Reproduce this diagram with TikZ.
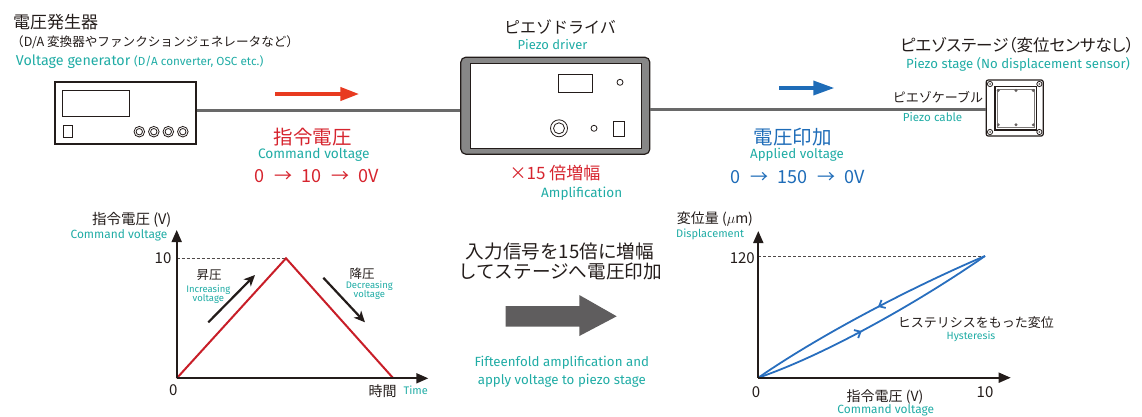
\documentclass[tikz,border=0pt]{standalone}
\usepackage{fontspec}
\usetikzlibrary{arrows.meta,decorations.markings}
\setmainfont{Noto Sans CJK JP}
\newfontfamily\jp{Noto Sans CJK JP}
\newfontfamily\jpprop[RawFeature=+palt]{Noto Sans CJK JP}
\newfontfamily\en{Fira Sans}
\newcommand\fsz[1]{\fontsize{#1}{#1}\selectfont}
\newcommand\gap{\hspace{9.5pt}}

\definecolor{ink}{RGB}{35,28,26}
\definecolor{tealtxt}{RGB}{32,172,165}
\definecolor{redtxt}{RGB}{214,36,46}
\definecolor{redarrow}{RGB}{232,58,32}
\definecolor{bluetxt}{RGB}{30,108,184}
\definecolor{bluecurve}{RGB}{40,110,190}
\definecolor{cablegray}{RGB}{105,105,105}
\definecolor{framegray}{RGB}{135,135,135}
\definecolor{bigarrow}{RGB}{95,93,94}
\definecolor{plotred}{RGB}{200,30,40}

\tikzset{
  jt/.style={inner sep=0pt, text=ink, font=\jp},
  tl/.style={inner sep=0pt, text=tealtxt, font=\en},
  device/.style={draw=ink, line width=1.2pt, fill=white, inner sep=0pt},
  part/.style={draw=ink, line width=0.9pt},
  cable/.style={draw=cablegray, line width=3pt},
  axis/.style={draw=ink, line width=1.8pt, -{Triangle[length=12pt,width=10pt]}},
  guide/.style={draw=ink!80, line width=0.8pt, dash pattern=on 3pt off 2pt},
  trend/.style={draw=ink, line width=2.2pt, -{Stealth[length=11pt,width=10pt,inset=3pt]}},
  loop/.style={draw=bluecurve, line width=1.8pt},
}

\begin{document}
\begin{tikzpicture}[x=1pt,y=-1pt]
\useasboundingbox (0,0) rectangle (1142,416);

% ---------- function generator ----------
\node[jt, anchor=west] (genjp) at (13,22) {\fsz{17}電圧発生器};
\node[jt, anchor=west] (genjp2) at (11,42.7) {\fsz{12.6}（D/A 変換器やファンクションジェネレータなど）};
\node[tl, anchor=west] (genen) at (15.7,62) {\fsz{14.3}Voltage generator \fsz{11.7}(D/A converter, OSC etc.)};
\node[device, minimum width=141pt, minimum height=62pt] (gen) at (125.5,113) {};
\draw[part] (62.7,90) rectangle (129.3,116.7);
\draw[part] (63.3,125) rectangle (72.7,137.3);
\foreach \cx in {139.3,153.8,168.3,182.8}{
  \draw[part, line width=0.8pt] (\cx,131.7) circle (5.3pt);
  \draw[part, line width=0.8pt] (\cx,131.7) circle (3.2pt);
}

% ---------- piezo driver ----------
\node[jt] (drvjp) at (560,26.7) {\fsz{16}ピエゾドライバ};
\node[tl] (drven) at (552.5,44.3) {\fsz{13}Piezo driver};
\node[draw=ink, fill=framegray, line width=1.2pt, rounded corners=5pt,
      minimum width=189pt, minimum height=97pt, inner sep=0pt] (drv) at (555.3,105.7) {};
\draw[part, line width=1.2pt, fill=white] (470.7,63.3) rectangle (641.7,148.3);
\draw[part] (558.3,74) rectangle (592.7,92.3);
\draw[part, line width=0.8pt] (620,82.3) circle (3pt);
\draw[part, line width=0.8pt] (559,128.3) circle (8.5pt);
\draw[part, line width=0.8pt] (559,128.3) circle (5.5pt);
\draw[part, line width=0.8pt] (594,128.3) circle (3pt);
\draw[part] (613.3,121) rectangle (624.3,136);
\node[inner sep=0pt, text=redtxt, font=\jp] (gain) at (555,173) {\fsz{17}×15 倍増幅};
\node[tl] (gainen) at (581.7,193.3) {\fsz{13.5}Amplification};

% ---------- piezo stage ----------
\node[inner sep=0pt, text=ink, font=\jpprop, anchor=west] (stgjp) at (900,45) {\fsz{16.5}ピエゾステージ（変位センサなし）};
\node[tl, anchor=west] (stgen) at (906,64) {\fsz{13.2}Piezo stage (No displacement sensor)};
\node[device, rounded corners=2pt, minimum width=57pt, minimum height=56pt] (stg) at (1014.7,108) {};
\draw[part, line width=1.3pt] (995,86.7) rectangle (1036.7,130);
\draw[draw=ink!60, line width=0.6pt] (997.6,89.2) rectangle (1034.1,127.5);
\foreach \sx in {990,1039.4}{
  \foreach \sy in {84,132}{
    \draw[part, line width=0.8pt] (\sx,\sy) circle (2.6pt);
    \fill[ink!70] (\sx,\sy) circle (1pt);
  }
}
\foreach \dx in {998.3,1016,1033.3}{
  \fill[ink!70] (\dx,90.5) circle (1.6pt);
  \fill[ink!70] (\dx,124.8) circle (1.6pt);
}
\node[jt, anchor=west] (cablejp) at (892.7,97.3) {\fsz{13}ピエゾケーブル};
\node[tl, anchor=west] (cableen) at (902.7,117.3) {\fsz{11.6}Piezo cable};

% ---------- cables ----------
\coordinate (lineA) at (0,110);
\coordinate (lineB) at (0,109);
\draw[cable] (gen.east |- lineA) -- (drv.west |- lineA);
\draw[cable] (drv.east |- lineB) -- (stg.west |- lineB);

% ---------- signal arrows and labels ----------
\coordinate (ra0) at (275,94);
\coordinate (ra1) at (359.3,94);
\draw[draw=redarrow, line width=4pt, -{Triangle[length=19pt,width=13pt]}] (ra0) -- (ra1);
\node[inner sep=0pt, text=redtxt, font=\jp] (cmdjp) at (312.5,136.7) {\fsz{19.5}指令電圧};
\node[tl] (cmden) at (313.8,155) {\fsz{13.7}Command voltage};
\node[inner sep=0pt, text=redtxt, font=\jp] (cmdval) at (317,176) {\fsz{18}0\gap→\gap10\gap→\gap0V};

\coordinate (ba0) at (779,88);
\coordinate (ba1) at (834.3,88);
\draw[draw=bluetxt, line width=3.5pt, -{Triangle[length=21pt,width=14pt]}] (ba0) -- (ba1);
\node[inner sep=0pt, text=bluetxt, font=\jp] (appjp) at (792.5,136.7) {\fsz{19.5}電圧印加};
\node[tl] (appen) at (797,155) {\fsz{13.3}Applied voltage};
\node[inner sep=0pt, text=bluetxt, font=\jp] (appval) at (798,176.7) {\fsz{18}0\gap→\gap150\gap→\gap0V};

% ---------- command voltage over time ----------
\coordinate (L0) at (176.7,378.3);
\coordinate (Ly) at (176.7,230);
\coordinate (Lx) at (428.3,378.3);
\coordinate (Lpk) at (286,258.3);
\coordinate (Lend) at (393.3,378.3);
\coordinate (L10) at (176.7,258.3);
\draw[guide] (L10) -- (Lpk);
\draw[draw=plotred, line width=2pt, line join=miter] (L0) -- (Lpk) -- (Lend);
\draw[axis] (L0) -- (Ly);
\draw[axis] (L0) -- (Lx);
\node[jt] (l10) at (163,258.3) {\fsz{15}10};
\node[jt] (l0) at (173.3,390) {\fsz{15}0};
\node[jt] (lyjp) at (131.7,220) {\fsz{14.5}指令電圧 (V)};
\node[tl] (lyen) at (119,235.7) {\fsz{11.9}Command voltage};
\node[jt] (upjp) at (209,275) {\fsz{12.5}昇圧};
\node[tl, align=center, font=\en\fsz{9.5}] (upen) at (208.3,294.2) {Increasing\\[-0.2pt]voltage};
\node[jt] (dnjp) at (362,273.3) {\fsz{12.5}降圧};
\node[tl, align=center, font=\en\fsz{9.5}] (dnen) at (369.3,290.4) {Decreasing\\[-1.2pt]voltage};
\coordinate (up0) at (208.3,322.3);
\coordinate (up1) at (255,275);
\coordinate (dn0) at (323.3,277.7);
\coordinate (dn1) at (365,322.3);
\draw[trend] (up0) -- (up1);
\draw[trend] (dn0) -- (dn1);
\node[jt] (timejp) at (382.5,390.7) {\fsz{14}時間};
\node[tl] (timeen) at (415.8,390.7) {\fsz{11}Time};

% ---------- middle explanation ----------
\node[jt, align=center, font=\jp\fsz{18.6}] (midjp) at (560,261.7) {入力信号を15倍に増幅\\[1.4pt]してステージへ電圧印加};
\fill[bigarrow] (505.7,306) -- (579.3,306) -- (579.3,295) -- (616.7,316.3)
  -- (579.3,336) -- (579.3,326.7) -- (505.7,326.7) -- cycle;
\node[tl, align=center, font=\en\fsz{13.3}] (miden) at (561.8,371.7) {Fifteenfold amplification and\\[4.7pt]apply voltage to piezo stage};

% ---------- displacement versus command voltage ----------
\coordinate (R0) at (758.3,377.7);
\coordinate (Ry) at (758.3,231);
\coordinate (Rx) at (1010.7,377.7);
\coordinate (Rtop) at (985,256);
\coordinate (R120) at (758.3,256);
\draw[guide] (R120) -- (Rtop);
\draw[loop, postaction={decorate}, decoration={markings,
  mark=at position 0.46 with {\arrow{Straight Barb[length=5pt,width=9pt]}}}]
  (Rtop) .. controls (918.3,284.3) and (825,331.7) .. (R0);
\draw[loop, postaction={decorate}, decoration={markings,
  mark=at position 0.44 with {\arrow{Straight Barb[length=5pt,width=9pt]}}}]
  (R0) .. controls (825,355) and (918.3,302.3) .. (Rtop);
\draw[axis] (R0) -- (Ry);
\draw[axis] (R0) -- (Rx);
\node[jt, anchor=east] (r120) at (755,257.7) {\fsz{15}120};
\node[jt] (r0) at (756,391.7) {\fsz{15}0};
\node[jt] (r10) at (985,391.7) {\fsz{15}10};
\node[jt] (rxjp) at (885,396.7) {\fsz{14}指令電圧 (V)};
\node[tl] (rxen) at (885.8,410) {\fsz{11.9}Command voltage};
\node[jt, anchor=west] (ryjp) at (676.7,219) {\fsz{14}変位量 ($\mu$m)};
\node[tl, anchor=west] (ryen) at (676,234) {\fsz{11}Displacement};
\node[jt] (hysjp) at (975.8,322.3) {\fsz{13}ヒステリシスをもった変位};
\node[tl] (hysen) at (971,336.7) {\fsz{10.5}Hysteresis};
\end{tikzpicture}
\end{document}
